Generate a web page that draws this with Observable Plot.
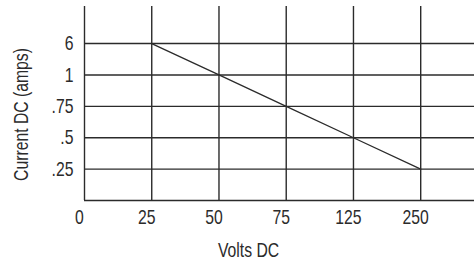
<!DOCTYPE html>
<html>
<head>
<meta charset="utf-8">
<script src="https://cdn.jsdelivr.net/npm/d3@7"></script>
<script src="https://cdn.jsdelivr.net/npm/@observablehq/plot@0.6"></script>
<style>
  html, body { margin: 0; padding: 0; background: #fff; }
  #chart svg { display: block; }
</style>
</head>
<body>
<div id="chart"></div>
<script>
const voltLabels = ["0", "25", "50", "75", "125", "250"];
const ampLabels = ["0", ".25", ".5", ".75", "1", "6"];
// line: volts category -> current category
const lineVolts = ["25", "50", "75", "125", "250"];
const lineAmps = ["6", "1", ".75", ".5", ".25"];

const xi = v => voltLabels.indexOf(v);
const yi = a => ampLabels.indexOf(a);
const lineData = lineVolts.map((v, i) => ({x: xi(v), y: yi(lineAmps[i])}));
const idx = d3.range(voltLabels.length);
const idy = d3.range(ampLabels.length);

const ink = "#2b2b2b";
const font = "'Liberation Sans', Arial, sans-serif";
const fs = 21;
const squeeze = 0.75;

const chart = Plot.plot({
  width: 474,
  height: 261,
  marginLeft: 84,
  marginRight: 0,
  marginTop: 6,
  marginBottom: 61,
  style: {fontFamily: font, fontSize: fs + "px", color: ink, background: "#fff"},
  x: {type: "linear", domain: [0, 5.8]},
  y: {type: "linear", domain: [0, 6.18]},
  marks: [
    Plot.ruleX(idx, {x: d => d, y1: 0, y2: 6.18, stroke: ink, strokeWidth: 1.4}),
    Plot.ruleY(idy, {y: d => d, x1: 0, x2: 5.8, stroke: ink, strokeWidth: 1.4}),
    Plot.line(lineData, {x: "x", y: "y", stroke: ink, strokeWidth: 1.3}),
    Plot.axisX(idx, {tickFormat: i => voltLabels[i], tickSize: 0, tickPadding: 9, dx: -5, fontSize: fs, label: null}),
    Plot.axisY(idy.slice(1), {tickFormat: i => ampLabels[i], tickSize: 0, tickPadding: 11, fontSize: fs, label: null}),
    Plot.text(["Volts DC"], {frameAnchor: "bottom", lineAnchor: "middle", dx: -31, dy: 50, fontSize: fs, fill: ink}),
    Plot.text(["Current DC (amps)"], {frameAnchor: "left", textAnchor: "middle", lineAnchor: "middle", dx: -63, dy: 11, rotate: -90, fontSize: fs, fill: ink})
  ]
});
// condense the type horizontally (the reference uses a condensed face)
chart.querySelectorAll("text").forEach(t => {
  const xa = t.getAttribute("x");
  if (xa != null && !isNaN(+xa)) t.setAttribute("x", +xa / squeeze);
  t.setAttribute("transform", `${t.getAttribute("transform") || ""} scale(${squeeze},1)`.trim());
});
document.getElementById("chart").appendChild(chart);
</script>
</body>
</html>
